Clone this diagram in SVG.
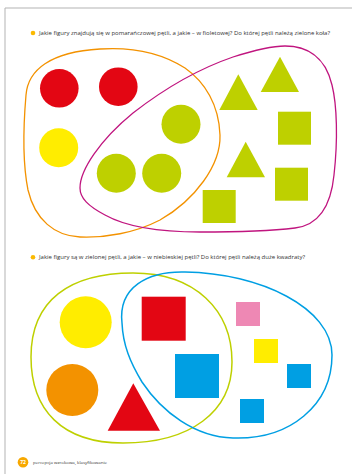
<svg xmlns="http://www.w3.org/2000/svg" width="352" height="474" viewBox="0 0 352 474">
<style>
.q{font-family:"Open Sans","Liberation Sans",sans-serif;font-size:5.3px;fill:#333}
.loop{fill:none;stroke-linecap:round}
.red{fill:#e30613}.yel{fill:#ffed00}.grn{fill:#bed000}.blu{fill:#009fe3}.org{fill:#f39200}.pnk{fill:#ee88b4}
</style>
<rect width="352" height="474" fill="#fff"/>
<path d="M5,474 V8 H352" fill="none" stroke="#b3b3b3" stroke-width="1"/>
<g id="question1">
<circle cx="33" cy="33" r="2.3" fill="#fbb900"/>
<text class="q" x="39" y="35" textLength="291" lengthAdjust="spacingAndGlyphs">Jakie figury znajdują się w pomarańczowej pętli, a jakie – w fioletowej? Do której pętli należą zielone koła?</text>
</g>
<g id="set1">
<path id="orange-loop" class="loop" stroke="#f39200" stroke-width="1.3" d="M100,49 C130,47 160,52 185,68 C205,82 219,105 220,135 C221,165 195,200 160,220 C135,233 105,238 80,237 C55,236 35,220 28,190 C23,165 23,130 26,95 C28,70 50,52 100,49 Z"/>
<path id="magenta-loop" class="loop" stroke="#c0157f" stroke-width="1.3" d="M80,188 C80,170 100,140 133,113 C160,92 195,70 233,57 C255,50 270,46 285,46 C305,46 325,55 332,85 C337,105 338,140 334,175 C331,205 320,225 295,228 C270,231 230,232 200,232 C170,232 130,229 105,215 C88,206 80,198 80,188 Z"/>
<circle id="red-circle-1" class="red" cx="59.3" cy="88.3" r="19.3"/>
<circle id="red-circle-2" class="red" cx="118.3" cy="86.7" r="19.3"/>
<circle id="yellow-circle" class="yel" cx="58.7" cy="147.7" r="19.5"/>
<circle id="green-circle-1" class="grn" cx="181" cy="124.3" r="19.5"/>
<circle id="green-circle-2" class="grn" cx="116.3" cy="173.3" r="19.5"/>
<circle id="green-circle-3" class="grn" cx="161.7" cy="173.3" r="19.5"/>
<polygon id="green-triangle-1" class="grn" points="238.3,74.3 257.7,110 219.3,110"/>
<polygon id="green-triangle-2" class="grn" points="280,56.7 299,92 260.7,92"/>
<polygon id="green-triangle-3" class="grn" points="245.7,141.7 265,177.3 226.7,177.3"/>
<rect id="green-square-1" class="grn" x="278" y="111.7" width="33" height="33"/>
<rect id="green-square-2" class="grn" x="275" y="167.7" width="33" height="33"/>
<rect id="green-square-3" class="grn" x="202.7" y="190" width="33" height="33"/>
</g>
<g id="question2">
<circle cx="33" cy="257.3" r="2.3" fill="#fbb900"/>
<text class="q" x="39" y="259.3" textLength="266" lengthAdjust="spacingAndGlyphs">Jakie figury są w zielonej pętli, a jakie – w niebieskiej pętli? Do której pętli należą duże kwadraty?</text>
</g>
<g id="set2">
<path id="green-loop" class="loop" stroke="#bed000" stroke-width="1.5" d="M31,357 C31,300 70,273 133,273 C195,273 232,310 232,362 C232,412 190,443 123,443 C62,443 31,410 31,357 Z"/>
<path id="blue-loop" class="loop" stroke="#009fe3" stroke-width="1.5" d="M122,323 C118,287 148,271 185,272 C260,273 332,308 332,355 C332,405 290,440 233,438 C195,437 162,412 142,382 C130,362 123,345 122,323 Z"/>
<circle id="yellow-big-circle" class="yel" cx="85.7" cy="322.3" r="26"/>
<circle id="orange-big-circle" class="org" cx="72.3" cy="390" r="26"/>
<polygon id="red-triangle" class="red" points="133.3,383.3 160,430.7 107.7,430.7"/>
<rect id="red-big-square" class="red" x="141.7" y="296.7" width="44" height="44"/>
<rect id="blue-big-square" class="blu" x="175" y="354" width="44" height="44"/>
<rect id="pink-square" class="pnk" x="236" y="302" width="24" height="24"/>
<rect id="yellow-small-square" class="yel" x="254" y="339" width="24" height="24"/>
<rect id="blue-small-square-1" class="blu" x="287" y="364" width="24" height="24"/>
<rect id="blue-small-square-2" class="blu" x="240" y="399" width="24" height="24"/>
</g>
<g id="footer">
<circle cx="23" cy="462.3" r="5.3" fill="#f7a800"/>
<text x="23" y="464.2" text-anchor="middle" font-family="Open Sans, Liberation Sans, sans-serif" font-size="5" font-weight="bold" fill="#fff">72</text>
<text x="33" y="463.7" font-family="Open Sans, Liberation Sans, sans-serif" font-size="4" fill="#333" textLength="74" lengthAdjust="spacingAndGlyphs">percepcja wzrokowa, klasyfikowanie</text>
</g>
</svg>
